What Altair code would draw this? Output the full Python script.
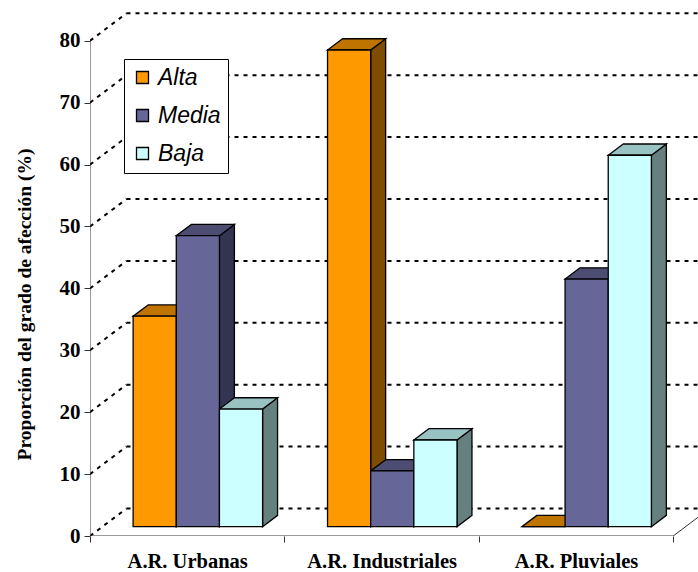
import altair as alt
import pandas as pd

# ---- data -------------------------------------------------------------
CATEGORIES = ["A.R. Urbanas", "A.R. Industriales", "A.R. Pluviales"]
SERIES = ["Alta", "Media", "Baja"]
ALTA = [34, 77, 0]
MEDIA = [47, 9, 40]
BAJA = [19, 14, 60]
Y_TICKS = [0, 10, 20, 30, 40, 50, 60, 70, 80]
Y_TITLE = "Proporción del grado de afección (%)"

VALUES = {"Alta": ALTA, "Media": MEDIA, "Baja": BAJA}

# ---- colours: front / top / side faces of each series -------------------
FRONT = ["#FF9900", "#666699", "#CCFFFF"]
TOP = ["#C07400", "#4D4D73", "#99C2C2"]
SIDE = ["#7F4D00", "#333352", "#668080"]

# ---- layout (x in category bands, y in percent) -------------------------
W, H = 608, 536
BAND_PX = 194.4
UNIT_PX = 6.19
X_MAX = W / BAND_PX
Y_MAX = H / UNIT_PX
WALL_DX = 36.5 / BAND_PX          # depth of the floor / back wall
WALL_DY = 27.5 / UNIT_PX
BAR_FRONT = 0.34                  # bar depth span as fraction of the wall depth
BAR_BACK = 0.75
GAP = 0.158
BAR_W = 0.222

fx, fy = BAR_FRONT * WALL_DX, BAR_FRONT * WALL_DY
dx, dy = (BAR_BACK - BAR_FRONT) * WALL_DX, (BAR_BACK - BAR_FRONT) * WALL_DY

front_rows, top_rows, side_rows = [], [], []
for g, cat in enumerate(CATEGORIES):
    for s, ser in enumerate(SERIES):
        v = VALUES[ser][g]
        xl = g + GAP + s * BAR_W + fx
        xr = xl + BAR_W
        yb, yt = fy, fy + v
        bid = f"{g}-{s}"
        front_rows.append(dict(serie=ser, categoria=cat, valor=v, x=xl, x2=xr, y=yb, y2=yt))
        top_rows += [
            dict(id=bid, fill=TOP[s], y=yt, x=xl, x2=xr),
            dict(id=bid, fill=TOP[s], y=yt + dy, x=xl + dx, x2=xr + dx),
        ]
        side_rows += [
            dict(id=bid, fill=SIDE[s], x=xr, y=yb, y2=yt),
            dict(id=bid, fill=SIDE[s], x=xr + dx, y=yb + dy, y2=yt + dy),
        ]

grid_rows = []
for t in Y_TICKS:
    grid_rows.append(dict(x=0, y=t, x2=WALL_DX, y2=t + WALL_DY))
    grid_rows.append(dict(x=WALL_DX, y=t + WALL_DY, x2=X_MAX, y2=t + WALL_DY))

n = len(CATEGORIES)
frame_rows = [
    dict(x=0, y=0, x2=0, y2=Y_TICKS[-1]),
    dict(x=0, y=0, x2=n, y2=0),
    dict(x=n, y=0, x2=n + WALL_DX, y2=WALL_DY),
]

front_df = pd.DataFrame(front_rows)
top_df = pd.DataFrame(top_rows)
side_df = pd.DataFrame(side_rows)
grid_df = pd.DataFrame(grid_rows)
frame_df = pd.DataFrame(frame_rows)

# ---- scales and axes ---------------------------------------------------
SX = alt.Scale(domain=[0, X_MAX], nice=False, zero=False)
SY = alt.Scale(domain=[0, Y_MAX], nice=False, zero=False)

label_list = "[" + ",".join(f"'{c}'" for c in CATEGORIES) + "]"
AX_X = alt.Axis(
    values=[i * 0.5 for i in range(2 * n + 1)],
    labelExpr=f"datum.value % 1 == 0.5 ? {label_list}[floor(datum.value)] : ''",
    tickOpacity={"condition": {"test": "datum.value % 1 != 0", "value": 0}, "value": 1},
    domain=False, grid=False, tickSize=6, tickColor="#333", tickWidth=1,
    labelFont="Liberation Serif", labelFontWeight="bold", labelFontSize=20.5,
    labelColor="black", labelBaseline="alphabetic", labelPadding=25,
    labelOverlap=False, labelFlush=False, title=None,
)
AX_Y = alt.Axis(
    values=Y_TICKS, domain=False, grid=False, tickSize=6, tickColor="#333", tickWidth=1,
    labelFont="Liberation Serif", labelFontWeight="bold", labelFontSize=21,
    labelColor="black", labelPadding=4,
    title=Y_TITLE, titleFont="Liberation Serif", titleFontWeight="bold",
    titleFontSize=19.5, titleColor="black", titleX=-66, titleY=304,
    titleAngle=270, titleAlign="center", titleBaseline="middle",
)


def X(f):
    return alt.X(f, type="quantitative", scale=SX, axis=AX_X)


def Y(f):
    return alt.Y(f, type="quantitative", scale=SY, axis=AX_Y)


grid = alt.Chart(grid_df).mark_rule(
    color="black", strokeWidth=2, strokeDash=[4, 5], clip=True
).encode(x=X("x"), x2="x2", y=Y("y"), y2="y2")

frame = alt.Chart(frame_df).mark_rule(
    color="#333", strokeWidth=1, clip=True
).encode(x=X("x"), x2="x2", y=Y("y"), y2="y2")

side = alt.Chart(side_df).mark_area(
    stroke="black", strokeWidth=1.3, strokeJoin="miter", opacity=1
).encode(
    x=X("x"), y=Y("y"), y2="y2",
    color=alt.Color("fill:N", scale=None), detail="id:N",
)

top = alt.Chart(top_df).mark_area(
    orient="horizontal", stroke="black", strokeWidth=1.3, strokeJoin="miter", opacity=1
).encode(
    y=Y("y"), x=X("x"), x2="x2",
    color=alt.Color("fill:N", scale=None), detail="id:N",
)

front = alt.Chart(front_df).mark_rect(
    stroke="black", strokeWidth=1.3, opacity=1
).encode(
    x=X("x"), x2="x2", y=Y("y"), y2="y2",
    color=alt.Color(
        "serie:N",
        scale=alt.Scale(domain=SERIES, range=FRONT),
        legend=alt.Legend(
            title=None, orient="none", legendX=34, legendY=59, direction="vertical",
            symbolType="square", symbolSize=144, symbolStrokeColor="black",
            symbolStrokeWidth=1.3, symbolOpacity=1,
            labelFont="Liberation Sans", labelFontStyle="italic", labelFontSize=23,
            labelColor="black", labelOffset=4, rowPadding=14, padding=7,
            strokeColor="black", fillColor="white", cornerRadius=0,
        ),
    ),
    tooltip=["categoria:N", "serie:N", "valor:Q"],
)

chart = (
    alt.layer(grid, frame, side, top, front)
    .properties(
        width=W, height=H,
        padding={"left": 90, "top": 0, "right": 0, "bottom": 36},
        autosize=alt.AutoSizeParams(type="none"),
        background="white",
    )
    .configure_view(stroke=None)
)

chart.save("out.html", embed_options={"renderer": "svg", "actions": False})
